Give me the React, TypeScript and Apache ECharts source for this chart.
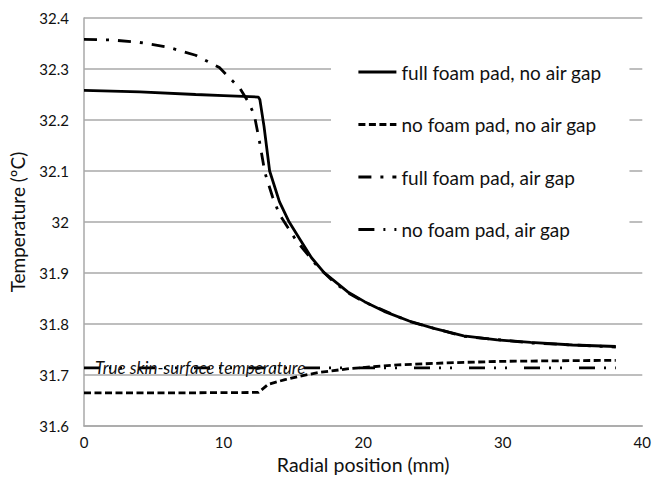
import React, { useEffect, useRef } from "react";
import * as echarts from "echarts";

// Radial position (mm) and temperature (°C) per series
const xFullFoamNoGap = [0, 4, 8, 10, 12.5, 12.6, 12.9, 13.3, 14.0, 14.7, 15.5, 16.3, 17.2, 18.9, 20.1, 21.5, 23.3, 25, 27.2, 29.6, 32, 35, 38.1];
const yFullFoamNoGap = [32.258, 32.255, 32.25, 32.248, 32.245, 32.24, 32.187, 32.1, 32.04, 32.0, 31.965, 31.93, 31.901, 31.863, 31.844, 31.825, 31.806, 31.792, 31.777, 31.769, 31.764, 31.759, 31.756];

const xNoFoamNoGap = [0, 6, 12.5, 13.2, 14.4, 15.5, 16.8, 19.1, 22.5, 26, 30, 34, 38.1];
const yNoFoamNoGap = [31.665, 31.665, 31.666, 31.682, 31.691, 31.698, 31.705, 31.713, 31.72, 31.724, 31.727, 31.728, 31.729];

const xFullFoamGap = [0, 2, 4, 6, 8, 9.7, 11.2, 11.8, 12.2, 12.6, 12.96, 13.5, 14.0, 15.2, 16.7, 18, 19, 20.1, 23.3, 27.2, 32, 38.1];
const yFullFoamGap = [32.358, 32.357, 32.352, 32.343, 32.327, 32.303, 32.261, 32.234, 32.21, 32.154, 32.097, 32.05, 32.015, 31.964, 31.914, 31.88, 31.86, 31.843, 31.805, 31.776, 31.763, 31.755];

const xNoFoamGap = [0, 10, 20, 30, 38.1];
const yNoFoamGap = [31.714, 31.714, 31.714, 31.714, 31.714];

const seriesNames = [
  "full foam pad, no air gap",
  "no foam pad, no air gap",
  "full foam pad, air gap",
  "no foam pad, air gap",
];

const xAxisTitle = "Radial position (mm)";
const yAxisTitle = "Temperature (ºC)";
const annotationText = "True skin-surface temperature";

const zip = (xs: number[], ys: number[]) => xs.map((x, i) => [x, ys[i]]);

const FONT = "Lato, 'Open Sans', sans-serif";
const LW = 2.8;

export default function App() {
  const ref = useRef<HTMLDivElement>(null);

  useEffect(() => {
    if (!ref.current) return;
    const chart = echarts.init(ref.current, null, { renderer: "svg" });

    const base = {
      type: "line" as const,
      symbol: "none",
      showSymbol: false,
      smooth: false,
    };

    chart.setOption({
      animation: false,
      backgroundColor: "#ffffff",
      textStyle: { fontFamily: FONT },
      grid: { left: 81, right: 11, top: 18, bottom: 41, containLabel: false },
      legend: {
        orient: "vertical",
        left: 331,
        top: 40,
        backgroundColor: "#ffffff",
        padding: [22, 28, 11, 26],
        itemWidth: 38,
        itemHeight: 20,
        itemGap: 32.5,
        data: seriesNames,
        itemStyle: { opacity: 0 },
        lineStyle: { width: LW },
        textStyle: { fontFamily: FONT, fontSize: 19, color: "#111", lineHeight: 20 },
      },
      xAxis: {
        type: "value",
        min: 0,
        max: 40,
        interval: 10,
        name: xAxisTitle,
        nameLocation: "middle",
        nameGap: 12,
        nameTextStyle: { fontFamily: FONT, fontSize: 19.5, color: "#111" },
        axisLine: { show: true, lineStyle: { color: "#a8a8a8", width: 1.5 } },
        axisTick: { show: false },
        splitLine: { show: false },
        axisLabel: { fontFamily: FONT, fontSize: 15, color: "#111", margin: 8 },
      },
      yAxis: {
        type: "value",
        min: 31.6,
        max: 32.4,
        interval: 0.1,
        name: yAxisTitle,
        nameLocation: "middle",
        nameGap: 57,
        nameTextStyle: { fontFamily: FONT, fontSize: 19, color: "#111" },
        axisLine: { show: true, lineStyle: { color: "#a8a8a8", width: 1.5 } },
        axisTick: { show: false },
        splitLine: { show: true, lineStyle: { color: "#a8a8a8", width: 1.5 } },
        axisLabel: {
          fontFamily: FONT,
          fontSize: 15,
          color: "#111",
          margin: 15,
          formatter: (v: number) => String(Number(v.toFixed(1))),
        },
      },
      series: [
        {
          ...base,
          name: seriesNames[0],
          z: 5,
          data: zip(xFullFoamNoGap, yFullFoamNoGap),
          lineStyle: { color: "#000", width: LW, type: "solid" },
          itemStyle: { color: "#000" },
        },
        {
          ...base,
          name: seriesNames[1],
          z: 3,
          data: zip(xNoFoamNoGap, yNoFoamNoGap),
          lineStyle: { color: "#000", width: LW, type: [7, 3.5] },
          itemStyle: { color: "#000" },
        },
        {
          ...base,
          name: seriesNames[2],
          z: 3,
          data: zip(xFullFoamGap, yFullFoamGap),
          lineStyle: { color: "#000", width: LW, type: [13, 9, 3, 9] },
          itemStyle: { color: "#000" },
        },
        {
          ...base,
          name: seriesNames[3],
          z: 3,
          data: zip(xNoFoamGap, yNoFoamGap),
          lineStyle: { color: "#000", width: LW, type: [16, 9, 2, 9, 2, 17] },
          itemStyle: { color: "#000" },
        },
      ],
      graphic: [
        {
          type: "text",
          x: 95,
          y: 367,
          z: 10,
          style: {
            text: annotationText,
            fontFamily: FONT,
            fontStyle: "italic",
            fontSize: 17,
            fill: "#111",
            verticalAlign: "middle",
          },
        },
      ],
    });

    return () => chart.dispose();
  }, []);

  return <div ref={ref} style={{ width: 654, height: 479, position: "absolute", left: 0, top: 0 }} />;
}
